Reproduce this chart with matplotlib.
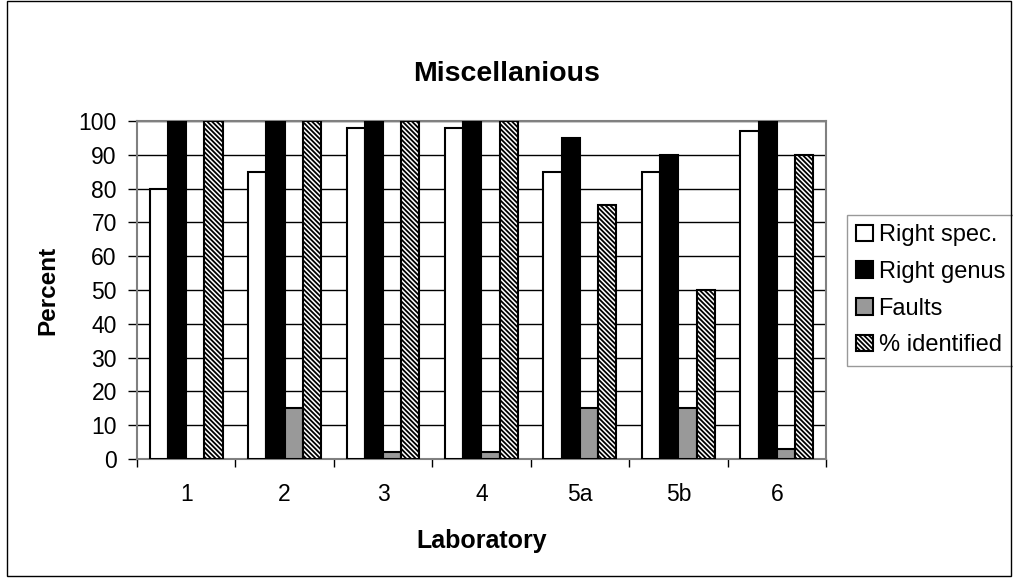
import numpy as np
import matplotlib.pyplot as plt
from matplotlib.patches import Rectangle

plt.rcParams['font.family'] = ['Liberation Sans', 'DejaVu Sans']
plt.rcParams['hatch.linewidth'] = 1.3

labs = ['1', '2', '3', '4', '5a', '5b', '6']
right_spec = [80, 85, 98, 98, 85, 85, 97]
right_genus = [100, 100, 100, 100, 95, 90, 100]
faults = [0, 15, 2, 2, 15, 15, 3]
identified = [100, 100, 100, 100, 75, 50, 90]

fig = plt.figure(figsize=(10.13, 5.78), dpi=100)
# outer frame of the chart
fig.patches.append(Rectangle((7 / 1013, 2 / 578), 1004 / 1013, 575 / 578, transform=fig.transFigure,
                             fill=False, edgecolor='black', linewidth=1))
ax = fig.add_axes([0.1352, 0.2059, 0.6802, 0.5848])

x = np.arange(len(labs))
w = 0.185
ax.bar(x - 1.5 * w, right_spec, w, color='white', edgecolor='black', linewidth=1.5, label='Right spec.', zorder=3)
ax.bar(x - 0.5 * w, right_genus, w, color='black', edgecolor='black', linewidth=1.5, label='Right genus', zorder=3)
ax.bar(x + 0.5 * w, faults, w, color='#999999', edgecolor='black', linewidth=1.5, label='Faults', zorder=3)
ax.bar(x + 1.5 * w, identified, w, color='white', edgecolor='black', hatch='\\' * 7, linewidth=1.5,
       label='% identified', zorder=3)

ax.set_xlim(-0.5, len(labs) - 0.5)
ax.set_ylim(0, 100)
ax.set_yticks(range(0, 101, 10))
ax.yaxis.grid(True, color='black', linewidth=1)
ax.set_axisbelow(True)
ax.set_xticks(x)
ax.set_xticklabels(labs)
ax.set_xticks(np.arange(-0.5, len(labs), 1), minor=True)
ax.tick_params(axis='x', which='major', length=0, pad=17, labelsize=16.5)
ax.tick_params(axis='x', which='minor', length=6, color='black', width=1, direction='out')
ax.tick_params(axis='y', length=6.5, width=1, color='black', pad=8, labelsize=16.5)
for s in ax.spines.values():
    s.set_color('#808080')
    s.set_linewidth(1.5)

ax.set_xlabel('Laboratory', fontsize=18, fontweight='bold', labelpad=17)
ax.set_ylabel('Percent', fontsize=17.5, fontweight='bold', labelpad=14)
fig.text(0.5, 0.86, 'Miscellanious', ha='center', fontsize=20.5, fontweight='bold')

leg = ax.legend(loc='upper left', bbox_to_anchor=(1.03, 0.722), fontsize=17, frameon=True,
                fancybox=False, edgecolor='#808080', handlelength=0.7, handleheight=0.7,
                handletextpad=0.25, borderpad=0.4, labelspacing=0.62, borderaxespad=0)
leg.get_frame().set_linewidth(1)

fig.savefig('out.png', dpi=100)
